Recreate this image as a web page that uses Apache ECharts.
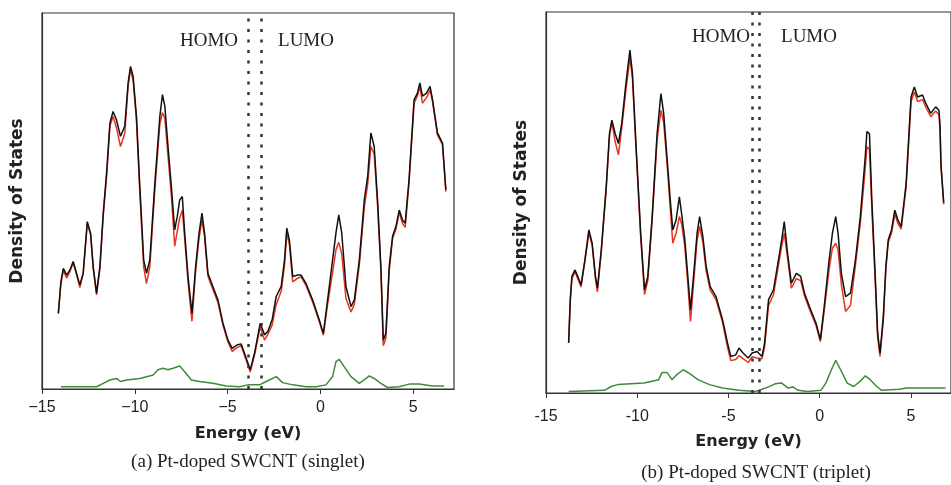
<!DOCTYPE html>
<html>
<head>
<meta charset="utf-8">
<script src="https://cdn.jsdelivr.net/npm/echarts@6/dist/echarts.min.js"></script>
<style>
  html, body { margin: 0; padding: 0; background: #fff; }
  #chart { width: 951px; height: 485px; }
</style>
</head>
<body>
<div id="chart"></div>
<script>
// (a) singlet: total DOS (black), second curve (red), Pt PDOS (green)
const singletE = [-14.12, -13.98, -13.85, -13.67, -13.5, -13.32, -13.14, -12.96, -12.78, -12.56, -12.38, -12.24, -12.06, -11.88, -11.7, -11.52, -11.34, -11.17, -10.99, -10.77, -10.54, -10.36, -10.23, -10.09, -9.91, -9.73, -9.52, -9.37, -9.19, -8.92, -8.65, -8.51, -8.38, -8.21, -8.03, -7.85, -7.71, -7.58, -7.44, -7.31, -7.13, -6.92, -6.72, -6.54, -6.38, -6.24, -6.06, -5.79, -5.52, -5.25, -4.98, -4.75, -4.5, -4.27, -4.09, -3.78, -3.55, -3.24, -3.01, -2.83, -2.6, -2.38, -2.11, -1.93, -1.81, -1.67, -1.49, -1.22, -1.04, -0.77, -0.41, -0.05, 0.16, 0.39, 0.66, 0.84, 0.99, 1.15, 1.38, 1.65, 1.83, 2.1, 2.37, 2.55, 2.72, 2.9, 3.08, 3.26, 3.39, 3.53, 3.71, 3.89, 4.07, 4.25, 4.43, 4.57, 4.78, 5.05, 5.23, 5.36, 5.5, 5.72, 5.91, 6.04, 6.31, 6.58, 6.76]
const singletTotal = [20.1, 28.6, 32.1, 30.3, 31.6, 33.9, 30.8, 27.7, 30.8, 44.5, 41.4, 32.5, 25.5, 32.6, 46.8, 57.4, 70.7, 73.8, 71.6, 67.2, 69.9, 81.4, 85.8, 83.1, 72.5, 53.9, 34.3, 30.8, 34.3, 54.7, 72.5, 78.3, 75.2, 64.5, 53.9, 42.3, 45.9, 50.3, 51.2, 41.4, 29.8, 20.1, 32.6, 41.4, 46.8, 41.4, 30.8, 27.2, 23.7, 17.5, 13.0, 10.8, 11.7, 12.0, 9.5, 5.1, 9.5, 17.5, 14.4, 15.3, 18.4, 24.6, 27.3, 34.4, 42.8, 39.6, 29.9, 30.3, 30.3, 28.0, 23.6, 18.2, 14.8, 23.7, 34.4, 41.5, 46.3, 41.5, 27.2, 21.9, 23.7, 34.4, 50.4, 56.6, 68.1, 64.5, 50.3, 32.6, 13.0, 14.8, 32.6, 40.6, 43.2, 47.6, 44.9, 44.1, 55.9, 76.9, 78.7, 81.4, 77.9, 78.7, 80.5, 77.0, 68.1, 65.4, 53.0]
const singletRed = [20.1, 28.0, 31.5, 29.5, 31.2, 33.6, 30.5, 27.0, 30.8, 44.0, 41.0, 32.0, 25.0, 32.0, 46.0, 56.5, 70.0, 72.5, 69.5, 64.5, 68.0, 80.5, 85.0, 82.0, 71.5, 52.5, 32.5, 28.0, 32.5, 53.0, 70.5, 73.5, 72.0, 62.0, 51.5, 38.0, 42.0, 45.5, 47.5, 40.0, 28.5, 18.0, 31.5, 40.0, 45.0, 40.5, 30.0, 26.5, 23.0, 17.0, 12.5, 10.0, 11.0, 11.5, 9.0, 4.5, 9.0, 16.5, 13.0, 14.5, 17.0, 22.5, 26.0, 33.0, 41.5, 38.5, 28.5, 29.5, 29.8, 27.5, 23.0, 17.8, 14.3, 22.5, 31.0, 37.0, 39.0, 36.0, 24.0, 20.5, 22.5, 33.0, 48.5, 54.5, 64.5, 62.5, 49.0, 31.5, 11.5, 13.5, 31.5, 40.0, 42.5, 47.0, 44.0, 43.0, 55.0, 76.0, 78.0, 80.5, 76.0, 77.5, 79.5, 76.5, 67.5, 65.0, 52.5]
const singletPtE = [-13.98, -12.06, -11.7, -11.34, -10.99, -10.77, -10.45, -9.73, -9.01, -8.75, -8.48, -8.21, -7.94, -7.58, -7.31, -6.95, -6.51, -5.79, -5.07, -4.35, -3.91, -3.28, -2.92, -2.38, -2.03, -1.49, -0.77, -0.23, 0.3, 0.66, 0.84, 1.02, 1.29, 1.65, 2.1, 2.46, 2.63, 2.9, 3.26, 3.62, 4.25, 4.78, 5.32, 6.04, 6.67]
const singletPt = [0.6, 0.6, 1.5, 2.4, 2.8, 2.0, 2.4, 2.8, 3.7, 5.1, 5.5, 5.1, 5.5, 6.1, 4.6, 2.4, 2.0, 1.5, 0.8, 0.6, 1.1, 1.1, 2.0, 3.3, 1.7, 1.1, 0.6, 0.6, 1.1, 3.3, 7.3, 7.9, 5.9, 3.3, 1.5, 2.8, 3.5, 2.8, 1.5, 0.4, 0.6, 1.3, 1.3, 0.8, 0.8]
const singletGap = [-3.9, -3.2]   // HOMO, LUMO

// (b) triplet
const tripletE = [-13.76, -13.67, -13.58, -13.41, -13.26, -13.08, -12.87, -12.65, -12.47, -12.29, -12.18, -11.97, -11.7, -11.52, -11.39, -11.21, -11.03, -10.85, -10.62, -10.4, -10.26, -10.08, -9.81, -9.6, -9.42, -9.18, -8.91, -8.7, -8.55, -8.37, -8.19, -8.05, -7.87, -7.69, -7.57, -7.39, -7.21, -7.08, -6.9, -6.72, -6.58, -6.4, -6.22, -6.0, -5.68, -5.32, -5.05, -4.87, -4.6, -4.42, -4.2, -3.92, -3.7, -3.43, -3.16, -3.02, -2.8, -2.53, -2.26, -2.08, -1.94, -1.76, -1.55, -1.28, -1.04, -0.83, -0.56, -0.2, 0.04, 0.25, 0.52, 0.7, 0.88, 1.01, 1.19, 1.42, 1.69, 1.96, 2.23, 2.5, 2.59, 2.73, 2.86, 3.04, 3.18, 3.31, 3.49, 3.63, 3.76, 3.94, 4.12, 4.29, 4.47, 4.74, 5.01, 5.19, 5.37, 5.64, 5.82, 6.09, 6.36, 6.54, 6.6, 6.65, 6.8]
const tripletTotal = [13.1, 24.5, 30.6, 32.3, 30.6, 28.4, 34.9, 42.8, 39.3, 30.6, 27.5, 37.6, 54.1, 68.1, 71.6, 68.1, 65.5, 70.7, 81.2, 90.0, 83.8, 66.4, 41.9, 27.1, 30.6, 46.3, 68.1, 78.6, 73.4, 62.0, 50.7, 42.8, 45.4, 51.5, 47.2, 40.2, 29.7, 21.8, 31.4, 41.9, 46.3, 41.0, 33.2, 27.9, 25.3, 19.2, 13.1, 9.6, 10.0, 11.8, 10.5, 9.2, 10.5, 10.9, 9.6, 13.1, 24.5, 27.1, 34.9, 40.2, 45.0, 36.7, 28.8, 31.4, 30.6, 26.2, 22.7, 18.3, 14.0, 22.7, 34.9, 41.9, 46.3, 41.9, 31.4, 25.3, 26.2, 34.9, 46.3, 62.0, 68.6, 68.1, 50.7, 31.4, 15.7, 10.5, 20.1, 33.2, 40.2, 42.8, 48.0, 45.4, 43.7, 55.0, 77.7, 80.3, 77.7, 78.2, 76.0, 73.4, 75.1, 74.2, 70.0, 60.0, 50.0]
const tripletRed = [13.1, 24.0, 30.0, 31.8, 30.0, 27.8, 34.5, 42.0, 38.8, 30.0, 26.5, 37.0, 53.5, 67.5, 71.0, 66.0, 62.5, 69.5, 79.5, 88.0, 82.5, 65.5, 41.0, 25.8, 29.5, 45.5, 66.5, 74.2, 71.0, 60.5, 48.5, 39.3, 42.0, 46.3, 44.5, 38.5, 27.5, 18.8, 29.5, 40.0, 43.7, 39.5, 32.0, 27.0, 24.5, 18.5, 12.0, 8.5, 8.8, 9.8, 9.0, 8.0, 9.5, 9.2, 9.0, 12.0, 23.0, 25.8, 33.5, 38.5, 41.9, 35.5, 27.5, 30.0, 29.5, 25.5, 22.0, 17.8, 13.5, 21.5, 32.5, 38.0, 39.3, 37.5, 28.5, 21.4, 23.0, 33.5, 44.5, 59.0, 64.6, 64.0, 48.5, 30.0, 14.5, 9.6, 19.0, 32.5, 39.5, 42.0, 47.0, 44.5, 43.0, 54.0, 76.5, 79.0, 76.5, 77.0, 75.0, 72.5, 74.0, 73.0, 69.0, 59.5, 49.5]
const tripletPtE = [-13.76, -11.79, -11.43, -11.07, -10.35, -9.63, -9.18, -8.82, -8.64, -8.37, -8.1, -7.83, -7.48, -7.12, -6.67, -6.04, -5.32, -4.42, -3.52, -3.16, -2.8, -2.44, -2.08, -1.73, -1.46, -1.19, -0.65, 0.07, 0.34, 0.61, 0.88, 1.15, 1.51, 1.87, 2.23, 2.5, 2.77, 3.13, 3.4, 4.38, 4.74, 5.28, 6.54, 6.9]
const tripletPt = [0.4, 0.7, 1.7, 2.2, 2.4, 2.6, 3.1, 3.5, 5.4, 5.4, 3.5, 4.8, 6.1, 5.1, 3.5, 2.2, 1.3, 0.7, 0.4, 1.0, 1.6, 2.4, 2.6, 1.3, 1.6, 0.7, 0.4, 0.7, 2.6, 5.7, 8.6, 6.1, 2.6, 1.7, 3.1, 4.5, 3.5, 1.7, 0.7, 1.0, 1.3, 1.3, 1.3, 1.3]
const tripletGap = [-3.67, -3.3]

const xTicks = [-15, -10, -5, 0, 5]

const zip = (xs, ys) => xs.map((x, i) => [x, ys[i]])

const nameFont = (size) => ({ fontFamily: 'DejaVu Sans', fontWeight: 'bold', fontSize: size, color: '#222' })

const makeXAxis = (gridIndex, margin, nameGap, useMinus) => ({
  gridIndex,
  type: 'value',
  min: -15,
  max: 7.2,
  name: 'Energy (eV)',
  nameLocation: 'middle',
  nameGap,
  nameTextStyle: nameFont(16),
  axisLine: { show: true, onZero: false, lineStyle: { color: '#333', width: 1.2 } },
  axisTick: { show: true, inside: false, length: 5, customValues: xTicks, lineStyle: { color: '#333' } },
  axisLabel: {
    customValues: xTicks,
    margin,
    fontFamily: 'Liberation Sans',
    fontSize: 16,
    color: '#222',
    formatter: (v) => (useMinus ? String(v).replace('-', '\u2212') : String(v))
  },
  splitLine: { show: false }
})

const makeYAxis = (gridIndex) => ({
  gridIndex,
  type: 'value',
  min: 0,
  max: 100,
  name: 'Density of States',
  nameLocation: 'middle',
  nameGap: 16,
  nameTextStyle: nameFont(17),
  axisLine: { show: true, onZero: false, lineStyle: { color: '#333', width: 1.2 } },
  axisTick: { show: false },
  axisLabel: { show: false },
  splitLine: { show: false }
})

const makeSeries = (idx, e, total, red, ptE, pt, gap) => [
  {
    type: 'line', xAxisIndex: idx, yAxisIndex: idx,
    data: zip(e, red), showSymbol: false,
    lineStyle: { color: '#e8341c', width: 1.5 }, z: 2
  },
  {
    type: 'line', xAxisIndex: idx, yAxisIndex: idx,
    data: zip(e, total), showSymbol: false,
    lineStyle: { color: '#111', width: 1.5 }, z: 3,
    markLine: {
      silent: true,
      symbol: 'none',
      label: { show: false },
      lineStyle: { color: '#333', type: [3, 7.5], width: 2.5 },
      data: [{ xAxis: gap[0] }, { xAxis: gap[1] }]
    }
  },
  {
    type: 'line', xAxisIndex: idx, yAxisIndex: idx,
    data: zip(ptE, pt), showSymbol: false,
    lineStyle: { color: '#3f8a3a', width: 1.5 }, z: 2
  }
]

const serif = (text, x, y, size) => ({
  type: 'text', x, y,
  style: { text, fill: '#222', font: size + 'px "Liberation Serif"', textAlign: 'center', textVerticalAlign: 'middle' }
})

const chart = echarts.init(document.getElementById('chart'), null, { renderer: 'canvas' })
chart.setOption({
  animation: false,
  backgroundColor: '#fff',
  grid: [
    { left: 42, top: 13, width: 412, height: 376, show: true, borderColor: '#333', borderWidth: 1.2 },
    { left: 546, top: 12, width: 412, height: 381, show: true, borderColor: '#333', borderWidth: 1.2 }
  ],
  xAxis: [makeXAxis(0, 11, 37, true), makeXAxis(1, 16, 41, false)],
  yAxis: [makeYAxis(0), makeYAxis(1)],
  series: [
    ...makeSeries(0, singletE, singletTotal, singletRed, singletPtE, singletPt, singletGap),
    ...makeSeries(1, tripletE, tripletTotal, tripletRed, tripletPtE, tripletPt, tripletGap)
  ],
  graphic: [
    serif('HOMO', 209, 41, 19),
    serif('LUMO', 306, 41, 19),
    serif('HOMO', 721, 37, 19),
    serif('LUMO', 809, 37, 19),
    serif('(a) Pt-doped SWCNT (singlet)', 248, 462, 19),
    serif('(b) Pt-doped SWCNT (triplet)', 756, 473, 19)
  ]
})
</script>
</body>
</html>
